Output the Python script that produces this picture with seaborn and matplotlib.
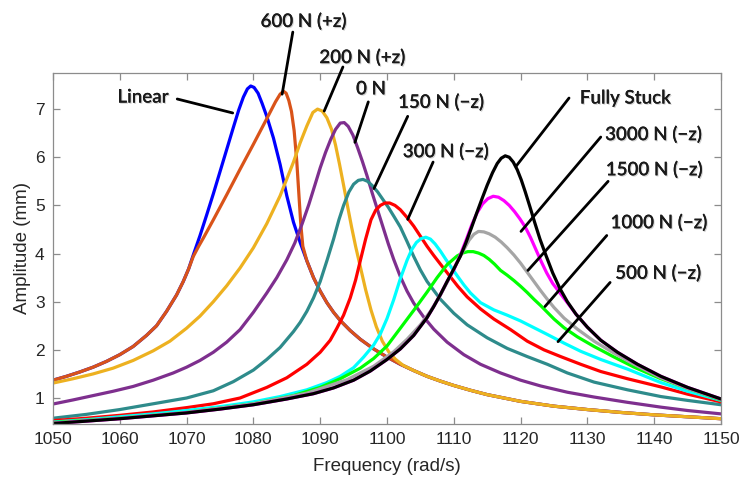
import numpy as np
import pandas as pd
import matplotlib
matplotlib.use("Agg")
import matplotlib.pyplot as plt
import matplotlib.patheffects as pe
import seaborn as sns

# ---------------- data ----------------
tail_f = [1088, 1089, 1090, 1091, 1092, 1093, 1094.5, 1096, 1098, 1100, 1102, 1104,
          1106, 1108, 1110, 1112.5, 1115, 1117.5, 1120, 1122.5, 1125, 1130, 1135,
          1140, 1145, 1150]
tail_a = [3.85, 3.50, 3.22, 2.98, 2.78, 2.61, 2.40, 2.22, 2.02, 1.85, 1.70, 1.57,
          1.45, 1.35, 1.26, 1.16, 1.07, 1.00, 0.93, 0.88, 0.83, 0.76, 0.70,
          0.65, 0.61, 0.57]

rise_f = [1050, 1052, 1054, 1056, 1058, 1060, 1062, 1064, 1065.5, 1067, 1068.5,
          1069.5, 1070.3]
rise_a = [1.37, 1.45, 1.54, 1.64, 1.76, 1.90, 2.07, 2.30, 2.50, 2.80, 3.14,
          3.42, 3.68]

linear_f = rise_f + [1071, 1072, 1073, 1074, 1075, 1076, 1077, 1077.8, 1078.5,
                     1079.1, 1079.6, 1080.1, 1080.7, 1081.3, 1082, 1083, 1084,
                     1085, 1086, 1087] + tail_f
linear_a = rise_a + [3.97, 4.37, 4.80, 5.24, 5.70, 6.16, 6.62, 6.98, 7.25,
                     7.42, 7.48, 7.45, 7.33, 7.12, 6.85, 6.40, 5.85,
                     5.20, 4.65, 4.23] + tail_a

n600_f = rise_f + [1071, 1071.8, 1072.5, 1074, 1076, 1078, 1080, 1082, 1083.3,
                   1084, 1084.5, 1084.9, 1085.3, 1085.7, 1086.1, 1086.5, 1086.8,
                   1087.1, 1087.4] + tail_f
n600_a = rise_a + [3.94, 4.15, 4.32, 4.70, 5.22, 5.75, 6.27, 6.80, 7.15,
                   7.31, 7.37, 7.33, 7.18, 6.95, 6.55, 5.90, 5.25,
                   4.60, 4.15] + tail_a

n200_f = [1050, 1053, 1056, 1059, 1062, 1065, 1067.5, 1070, 1072, 1074, 1076, 1078,
          1080, 1082, 1084, 1085, 1086, 1087, 1088, 1088.9, 1089.6, 1090.3, 1091,
          1091.7, 1092.3, 1092.9, 1093.5, 1094.1, 1094.7, 1095.3, 1096, 1096.8,
          1097.6, 1098.4, 1099.3, 1100.3, 1101.3, 1102.4, 1104] + tail_f[12:]
n200_a = [1.31, 1.40, 1.50, 1.62, 1.78, 1.98, 2.18, 2.45, 2.70, 3.0, 3.33, 3.70,
          4.12, 4.62, 5.20, 5.55, 5.90, 6.30, 6.65, 6.93, 7.0, 6.96, 6.82,
          6.58, 6.25, 5.85, 5.42, 4.98, 4.55, 4.15, 3.73, 3.25,
          2.83, 2.48, 2.18, 1.95, 1.80, 1.68, 1.57] + tail_a[12:]

n0_f = [1050, 1053, 1056, 1059, 1062, 1065, 1068, 1070, 1072, 1074, 1076, 1078,
        1080, 1082, 1083.5, 1085, 1086.2, 1087.3, 1088.3, 1089.2, 1090, 1090.8,
        1091.6, 1092.3, 1093, 1093.6, 1094.2, 1094.9, 1095.6, 1096.3, 1097,
        1097.8, 1098.6, 1099.4, 1100.2, 1101, 1102, 1103, 1104, 1105.5, 1107,
        1109, 1111.5, 1114, 1117, 1120, 1123, 1127, 1131, 1136, 1141, 1145, 1150]
n0_a = [0.875, 0.96, 1.05, 1.14, 1.24, 1.37, 1.52, 1.64, 1.78, 1.95, 2.16, 2.42,
        2.78, 3.18, 3.50, 3.87, 4.22, 4.62, 5.02, 5.42, 5.78, 6.10,
        6.38, 6.58, 6.71, 6.72, 6.64, 6.46, 6.20, 5.92, 5.62,
        5.25, 4.90, 4.55, 4.20, 3.88, 3.52, 3.22, 2.97, 2.68, 2.43,
        2.16, 1.90, 1.70, 1.52, 1.37, 1.25, 1.12, 1.02, 0.91, 0.81, 0.74, 0.67]

n150_f = [1050, 1055, 1060, 1065, 1070, 1074, 1077, 1080, 1082, 1084, 1086, 1087,
          1088, 1089, 1090, 1091, 1092, 1092.8, 1093.5, 1094.3, 1095, 1095.7,
          1096.4, 1097.1, 1097.8, 1098.6, 1099.4, 1100.2, 1101, 1102, 1103, 1104,
          1105, 1106, 1108, 1110, 1112, 1115, 1118, 1121, 1124, 1127, 1131, 1136,
          1141, 1145, 1150]
n150_a = [0.58, 0.66, 0.76, 0.88, 1.0, 1.15, 1.34, 1.58, 1.80, 2.05, 2.38, 2.57,
          2.80, 3.08, 3.42, 3.85, 4.30, 4.70, 5.0, 5.28, 5.44, 5.52,
          5.54, 5.50, 5.41, 5.28, 5.12, 4.96, 4.78, 4.55, 4.25, 3.94,
          3.66, 3.42, 3.05, 2.76, 2.52, 2.25, 2.03, 1.86, 1.70, 1.52, 1.33, 1.17,
          1.03, 0.95, 0.86]

n300_f = [1050, 1055, 1060, 1065, 1070, 1074, 1078, 1082, 1085, 1088, 1090, 1091.5,
          1092.5, 1093.5, 1094.5, 1095.3, 1096, 1096.8, 1097.6, 1098.3, 1099,
          1099.7, 1100.4, 1101.2, 1102, 1103, 1104, 1105, 1106, 1107, 1108, 1109.3,
          1110.6, 1112, 1114, 1116, 1118.5, 1121, 1123.5, 1126, 1129, 1132, 1136,
          1141, 1145, 1150]
n300_a = [0.53, 0.58, 0.64, 0.71, 0.80, 0.88, 1.0, 1.22, 1.42, 1.70, 1.95, 2.2,
          2.45, 2.72, 3.08, 3.45, 3.85, 4.3, 4.7, 4.9, 5.0,
          5.05, 5.05, 5.0, 4.91, 4.75, 4.57, 4.36, 4.15, 3.96, 3.78, 3.55,
          3.32, 3.10, 2.85, 2.64, 2.42, 2.18, 2.0, 1.86, 1.70, 1.55, 1.40,
          1.23, 1.08, 0.92]

n500_f = [1050, 1055, 1060, 1065, 1070, 1075, 1080, 1084, 1088, 1091, 1093, 1095,
          1096.5, 1098, 1099, 1100, 1101, 1102, 1103, 1103.7, 1104.4, 1105.1,
          1105.8, 1106.5, 1107.2, 1108, 1108.8, 1109.6, 1110.5, 1111.5, 1112.5,
          1114, 1116, 1118, 1120, 1122, 1124, 1126.5, 1129, 1132, 1136, 1141,
          1145, 1150]
n500_a = [0.50, 0.55, 0.61, 0.67, 0.74, 0.82, 0.92, 1.03, 1.17, 1.32, 1.45, 1.63,
          1.85, 2.10, 2.33, 2.65, 3.04, 3.48, 3.86, 4.08, 4.23, 4.31,
          4.34, 4.30, 4.20, 4.05, 3.88, 3.72, 3.54, 3.35, 3.18,
          2.98, 2.83, 2.72, 2.60, 2.46, 2.32, 2.14, 1.97, 1.80, 1.60, 1.32,
          1.14, 0.95]

n1000_f = [1050, 1060, 1070, 1080, 1086, 1090, 1093, 1096, 1098, 1100, 1102, 1104,
           1106, 1107.5, 1109, 1110.5, 1111.3, 1112.1, 1112.9, 1113.7, 1114.5,
           1115.3, 1116.1, 1117, 1118, 1119, 1120, 1121, 1122, 1123, 1124, 1125,
           1126.5, 1128.5, 1131, 1134, 1137, 1141, 1145, 1150]
n1000_a = [0.49, 0.58, 0.70, 0.88, 1.05, 1.22, 1.40, 1.62, 1.82, 2.08, 2.45, 2.82,
           3.2, 3.5, 3.77, 3.95, 4.01, 4.04, 4.04, 4.01, 3.96,
           3.88, 3.78, 3.65, 3.55, 3.44, 3.32, 3.19, 3.05, 2.92, 2.78, 2.64,
           2.46, 2.27, 2.07, 1.85, 1.64, 1.40, 1.20, 0.96]

n1500_f = [1050, 1060, 1070, 1080, 1088, 1094, 1098, 1101, 1103, 1105, 1106.5, 1108,
           1109.3, 1110.5, 1111.5, 1112.3, 1113, 1113.7, 1114.5, 1115.3, 1116.2,
           1117.1, 1118, 1119, 1120, 1121, 1122, 1123, 1124, 1125, 1126.5, 1128.5,
           1131, 1134, 1137, 1141, 1145, 1150]
n1500_a = [0.48, 0.58, 0.70, 0.88, 1.10, 1.38, 1.66, 1.96, 2.22, 2.52, 2.80, 3.14,
           3.48, 3.82, 4.08, 4.28, 4.40, 4.46, 4.45, 4.41, 4.34,
           4.24, 4.12, 3.97, 3.80, 3.61, 3.42, 3.23, 3.05, 2.88, 2.66, 2.43,
           2.18, 1.93, 1.70, 1.42, 1.20, 0.97]

stuck_f = [1050, 1055, 1060, 1065, 1070, 1075, 1080, 1085, 1089, 1092, 1095, 1097.5,
           1100, 1102, 1104, 1106, 1107, 1108, 1109, 1110, 1111, 1111.8, 1112.6,
           1113.4, 1114.2, 1115, 1115.8, 1116.5, 1117.1, 1117.7, 1118.3, 1118.9,
           1119.5, 1120.1, 1120.7, 1121.4, 1122.1, 1122.9, 1123.8, 1124.8, 1125.9,
           1127, 1128.3, 1130, 1132, 1134.5, 1137.5, 1141, 1145, 1150]
stuck_a = [0.47, 0.52, 0.57, 0.63, 0.69, 0.77, 0.86, 0.98, 1.09, 1.21, 1.37, 1.56,
           1.80, 2.02, 2.30, 2.67, 2.90, 3.15, 3.42, 3.68, 3.95, 4.22, 4.52,
           4.83, 5.13, 5.42, 5.68, 5.87, 5.98, 6.03, 6.0, 5.90,
           5.74, 5.53, 5.28, 4.97, 4.65, 4.30, 3.96, 3.60, 3.27,
           3.0, 2.74, 2.47, 2.20, 1.95, 1.70, 1.45, 1.22, 0.98]

n3000_f = stuck_f[:19] + [1110, 1111, 1111.9, 1112.7, 1113.5, 1114.3, 1115.1,
                          1115.9, 1116.7, 1117.5, 1118.3, 1119.1, 1119.9, 1120.7,
                          1121.5, 1122.3, 1123.1, 1123.9, 1124.8, 1125.9,
                          1127] + stuck_f[42:]
n3000_a = stuck_a[:19] + [3.66, 3.98, 4.3, 4.6, 4.85, 5.03, 5.14,
                          5.19, 5.17, 5.10, 5.0, 4.87, 4.72, 4.55,
                          4.33, 4.08, 3.83, 3.60, 3.38, 3.18,
                          2.98] + stuck_a[42:]

cases = ["Linear", "600 N (+z)", "200 N (+z)", "0 N", "150 N (\u2212z)",
         "300 N (\u2212z)", "500 N (\u2212z)", "1000 N (\u2212z)",
         "1500 N (\u2212z)", "3000 N (\u2212z)", "Fully Stuck"]
freqs = [linear_f, n600_f, n200_f, n0_f, n150_f, n300_f, n500_f, n1000_f,
         n1500_f, n3000_f, stuck_f]
amps = [linear_a, n600_a, n200_a, n0_a, n150_a, n300_a, n500_a, n1000_a,
        n1500_a, n3000_a, stuck_a]
colors = ["#0000FF", "#D95319", "#EDB120", "#7E2F8E", "#2E8B8B", "#FF0000",
          "#00FFFF", "#00FF00", "#A5A5A5", "#FF00FF", "#000000"]

x_ticks = list(range(1050, 1151, 10))
y_ticks = [1, 2, 3, 4, 5, 6, 7]

# label text position (f, A) and leader line start/end (f, A)
label_pos = {
    "Linear": ((1063.5, 7.25), (1068.6, 7.21), (1076.9, 6.92)),
    "600 N (+z)": ((1087.5, 8.83), (1085.9, 8.60), (1084.3, 7.31)),
    "200 N (+z)": ((1096.3, 8.08), (1093.4, 7.875), (1090.6, 6.96)),
    "0 N": ((1097.6, 7.42), (1097.2, 7.15), (1095.2, 6.31)),
    "150 N (\u2212z)": ((1108.1, 7.15), (1103.1, 6.85), (1098.05, 5.35)),
    "300 N (\u2212z)": ((1108.8, 6.125), (1106.9, 5.9), (1103.1, 4.71)),
    "Fully Stuck": ((1135.7, 7.23), (1127.25, 7.23), (1119.3, 5.81)),
    "3000 N (\u2212z)": ((1139.9, 6.48), (1132.0, 6.42), (1120.06, 4.46)),
    "1500 N (\u2212z)": ((1140.0, 5.75), (1133.1, 5.5), (1121.1, 3.65)),
    "1000 N (\u2212z)": ((1140.7, 4.65), (1132.9, 4.375), (1123.65, 2.9)),
    "500 N (\u2212z)": ((1140.6, 3.6), (1133.4, 3.40), (1125.6, 2.17)),
}

# ---------------- build table ----------------
rows = []
for c, fl, al in zip(cases, freqs, amps):
    for f, a in zip(fl, al):
        rows.append((c, f, a))
df = pd.DataFrame(rows, columns=["case", "Frequency", "Amplitude"])

# ---------------- plot ----------------
sns.set_style("ticks")
plt.rcParams["font.family"] = ["Liberation Sans", "DejaVu Sans"]

fig = plt.figure(figsize=(7.42, 4.82), dpi=100)
ax = fig.add_axes([53 / 742, 1 - 424 / 482, 668 / 742, 351 / 482])

sns.lineplot(data=df, x="Frequency", y="Amplitude", hue="case",
             hue_order=cases, palette=colors, estimator=None, sort=True,
             linewidth=2.3, legend=False, ax=ax)

ax.set_xlim(1050, 1150)
ax.set_ylim(0.46, 7.75)
ax.set_xticks(x_ticks)
ax.set_yticks(y_ticks)
ax.tick_params(direction="in", length=5, width=0.9, color="#8c8c8c",
               labelsize=12.5, labelcolor="#262626", top=True, right=True,
               pad=6)
for s in ax.spines.values():
    s.set_color("#8c8c8c")
    s.set_linewidth(0.9)
ax.set_xlabel("Frequency (rad/s)", fontsize=13.5, color="#262626", labelpad=8)
ax.set_ylabel("Amplitude (mm)", fontsize=13.5, color="#262626", labelpad=3)

shadow = [pe.withSimplePatchShadow(offset=(0.8, -0.8), shadow_rgbFace="#b0b0b0",
                                   alpha=0.6), pe.Normal()]
for name, ((tx, ty), (lx0, ly0), (lx1, ly1)) in label_pos.items():
    ax.annotate("", xy=(lx1, ly1), xytext=(lx0, ly0),
                arrowprops=dict(arrowstyle="-", color="black", lw=2.0,
                                shrinkA=0, shrinkB=0),
                annotation_clip=False)
    ax.text(tx, ty, name, ha="center", va="center", fontsize=13.5,
            family=["Lato", "DejaVu Sans"], fontweight="semibold",
            color="#1a1a1a", clip_on=False, path_effects=shadow)

fig.savefig("out.png", dpi=100)
